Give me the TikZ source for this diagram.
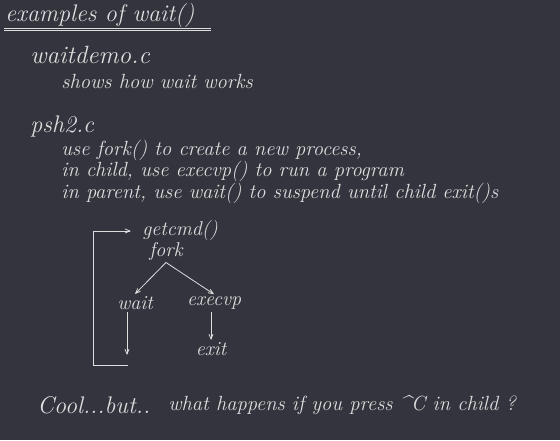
\documentclass[tikz,border=0pt]{standalone}
\usepackage{tikz}
\usetikzlibrary{arrows,positioning}
\definecolor{board}{RGB}{52,52,62}
\definecolor{chalk}{RGB}{222,222,222}

\begin{document}
\begin{tikzpicture}[x=1pt,y=-1pt,chalk,line width=0.8pt,->,>=angle 45]
    \tikzstyle{big}=[anchor=west, inner sep=0pt, font=\itshape\fontsize{24}{24}\selectfont]
    \tikzstyle{txt}=[anchor=west, inner sep=0pt, font=\itshape\fontsize{20.5}{20.5}\selectfont]
    \tikzstyle{stage}=[inner sep=2pt, font=\itshape\fontsize{20}{20}\selectfont]

    \useasboundingbox (0,0) rectangle (560,440);
    \fill[board] (0,0) rectangle (560,440);

    % heading
    \node[big]    (title) at (5,16) {examples of wait()};
    \draw[-,double=board,double distance=1.8pt,line width=0.8pt] (4,29.5) -- (211,29.5);

    \node[big]    (demo) at (30,55) {\fontsize{25}{25}\selectfont waitdemo.c};
    \node[txt]    (shows) at (61,81) {shows how wait works};

    \node[big]    (psh) at (30,126) {psh2.c};
    \node[txt]    (l1) at (61,150) {use fork() to create a new process,};
    \node[txt]    (l2) [below=21.5pt of l1.west,anchor=west] {in child, use execvp() to run a program};
    \node[txt]    (l3) [below=21.5pt of l2.west,anchor=west] {in parent, use wait() to suspend until child exit()s};

    % the loop
    \node[stage]  (getcmd) at (180,231) {getcmd()};
    \node[stage]  (fork) at (166,251) {fork};
    \node[stage]  (wait) at (135,303) {wait};
    \node[stage]  (execvp) at (214,303) {execvp};
    \node[stage]  (exit) at (211,349) {exit};
    \coordinate   (waitend) at (127,355);
    \coordinate   (back) at (128,365);

    \draw (fork.south) -- (wait.north);
    \draw (fork.south) -- (execvp.north);
    \draw (wait.south -| waitend) -- (waitend);
    \draw (execvp.south -| exit) -- (exit.north);
    \draw (back) -- (93,365) |- ([xshift=-9pt]getcmd.west);

    % footer
    \node[txt]    (cool) at (37,405) {\fontsize{24}{24}\selectfont Cool...but..};
    \node[txt]    (ask) at (168,405) {what happens if you press \^{}C in child ?};
\end{tikzpicture}
\end{document}
